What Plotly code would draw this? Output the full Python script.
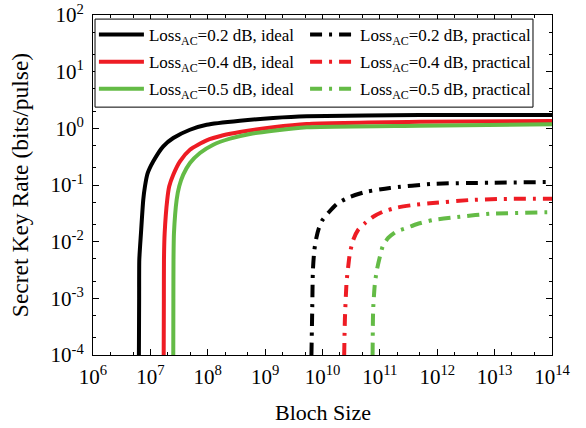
import plotly.graph_objects as go

# Values, stored as log10 exponents
ideal02_lx = [6.800, 6.804, 6.807, 6.836, 6.876, 6.906, 6.95, 7.051, 7.225, 7.399, 7.690, 7.981, 8.561, 9.141, 9.723, 11.70, 14.0]
ideal02_ly = [-4.0, -3.0, -2.32, -1.85, -1.26, -1.023, -0.80, -0.582, -0.317, -0.171, -0.025, 0.063, 0.134, 0.182, 0.212, 0.235, 0.235]

ideal04_lx = [7.232, 7.235, 7.237, 7.249, 7.294, 7.329, 7.399, 7.516, 7.690, 7.981, 8.270, 8.561, 9.141, 9.723, 11.70, 14.0]
ideal04_ly = [-4.0, -3.0, -2.32, -1.85, -1.26, -1.023, -0.818, -0.582, -0.377, -0.212, -0.123, -0.065, 0.018, 0.076, 0.116, 0.129]

ideal05_lx = [7.399, 7.401, 7.403, 7.411, 7.458, 7.503, 7.573, 7.690, 7.864, 8.096, 8.387, 8.735, 9.141, 9.723, 11.70, 14.0]
ideal05_ly = [-4.0, -3.0, -2.32, -1.85, -1.26, -1.023, -0.818, -0.612, -0.436, -0.289, -0.183, -0.10, -0.042, 0.018, 0.046, 0.07]

prac02_lx = [9.807, 9.821, 9.833, 9.859, 9.894, 9.937, 9.998, 10.11, 10.25, 10.477, 10.768, 11.174, 11.923, 12.916, 14.0]
prac02_ly = [-4.0, -3.2, -2.50, -2.14, -1.93, -1.76, -1.62, -1.48, -1.335, -1.21, -1.118, -1.053, -0.98, -0.96, -0.947]

prac04_lx = [10.378, 10.39, 10.42, 10.448, 10.477, 10.535, 10.622, 10.739, 10.883, 11.058, 11.291, 11.58, 11.871, 12.568, 13.09, 14.0]
prac04_ly = [-4.0, -3.38, -2.705, -2.44, -2.205, -1.97, -1.79, -1.675, -1.56, -1.47, -1.40, -1.353, -1.323, -1.265, -1.247, -1.242]

prac05_lx = [10.873, 10.883, 10.913, 10.948, 11.0, 11.052, 11.145, 11.291, 11.465, 11.639, 11.929, 12.394, 12.916, 13.962, 14.0]
prac05_ly = [-4.0, -3.2, -2.74, -2.50, -2.265, -2.075, -1.935, -1.82, -1.758, -1.693, -1.617, -1.559, -1.508, -1.48, -1.48]

names = [
    "Loss<sub>AC</sub>=0.2 dB, ideal", "Loss<sub>AC</sub>=0.4 dB, ideal", "Loss<sub>AC</sub>=0.5 dB, ideal",
    "Loss<sub>AC</sub>=0.2 dB, practical", "Loss<sub>AC</sub>=0.4 dB, practical", "Loss<sub>AC</sub>=0.5 dB, practical",
]
colors = ["#000000", "#ee1c24", "#64bb46", "#000000", "#ee1c24", "#64bb46"]
series = [(ideal02_lx, ideal02_ly), (ideal04_lx, ideal04_ly), (ideal05_lx, ideal05_ly),
          (prac02_lx, prac02_ly), (prac04_lx, prac04_ly), (prac05_lx, prac05_ly)]

xtick_exp = [6, 7, 8, 9, 10, 11, 12, 13, 14]
ytick_exp = [-4, -3, -2, -1, 0, 1, 2]

fig = go.Figure()
for i, ((lx, ly), name, col) in enumerate(zip(series, names, colors)):
    practical = i >= 3
    fig.add_trace(go.Scatter(
        x=[10 ** v for v in lx], y=[10 ** v for v in ly], mode="lines", name=name,
        legend="legend2" if practical else "legend", legendgroup=f"g{i}",
        line=dict(color=col, width=4, dash="12px,7px,3px,7px" if practical else "solid",
                  shape="spline", smoothing=0.6),
    ))

font = "Liberation Serif, Times New Roman, serif"
axis_common = dict(
    type="log", showgrid=False, zeroline=False, showline=True, linecolor="black",
    linewidth=1, mirror="ticks", ticks="inside", ticklen=6, tickcolor="black",
    tickfont=dict(family=font, size=21, color="black"), automargin=False,
    minor=dict(ticks="inside", ticklen=3, tickcolor="black", showgrid=False),
)
fig.update_xaxes(**axis_common, range=[6, 14], ticklabelstandoff=3,
                 tickvals=[10 ** e for e in xtick_exp],
                 ticktext=[f"10<sup>{e}</sup>" for e in xtick_exp])
fig.update_yaxes(**axis_common, range=[-4, 2], ticklabelstandoff=4,
                 tickvals=[10 ** e for e in ytick_exp],
                 ticktext=[f"10<sup>{e}</sup>" for e in ytick_exp],
                 title=dict(text="Secret Key Rate (bits/pulse)", font=dict(family=font, size=23.5, color="black"), standoff=15))

legend_common = dict(
    orientation="v", xanchor="left", yanchor="top", y=0.994,
    bgcolor="rgba(0,0,0,0)", borderwidth=0,
    font=dict(family=font, size=17, color="black"),
    itemwidth=45, tracegroupgap=2,
)
fig.update_layout(
    width=586, height=428, margin=dict(l=93, r=34, t=15, b=73, autoexpand=False),
    paper_bgcolor="white", plot_bgcolor="white",
    showlegend=True,
    legend=dict(**legend_common, x=0.002),
    legend2=dict(**legend_common, x=0.462),
    shapes=[dict(type="rect", xref="paper", yref="paper", x0=0.0044, x1=0.9586, y0=0.729, y1=0.988,
                 fillcolor="white", line=dict(color="black", width=1), layer="above")],
    annotations=[dict(text="Bloch Size", xref="paper", yref="paper", x=0.5, y=-0.168,
                      xanchor="center", yanchor="middle", showarrow=False,
                      font=dict(family=font, size=22, color="black"))],
)
fig.write_html("out.html")
